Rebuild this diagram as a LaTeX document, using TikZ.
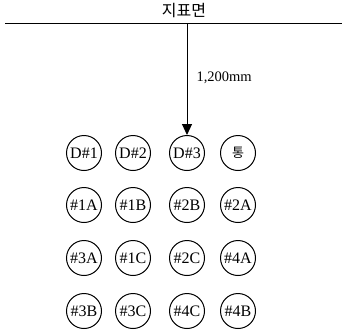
\documentclass[tikz,border=0pt]{standalone}
\usepackage{fontspec}
\setmainfont{Liberation Serif}
\newfontfamily\kr{Noto Sans CJK KR}
\usetikzlibrary{arrows.meta}
\begin{document}
\begin{tikzpicture}[x=1pt,y=-1pt,
  well/.style={circle,draw,line width=1pt,minimum size=35pt,inner sep=0pt,font=\fontsize{16}{16}\selectfont}]
\useasboundingbox (0,0) rectangle (342,333);
\coordinate (L) at (5,23);
\coordinate (R) at (342,23);
\draw[line width=1pt] (L) -- (R);
\node[font=\kr\fontsize{16}{16}\selectfont] (title) at (184,11) {지표면};
\coordinate (top) at (187,23);
\node[well] (d1) at (84,153) {D\#1};
\node[well] (d2) at (133,153) {D\#2};
\node[well] (d3) at (187,153) {D\#3};
\node[well,font=\kr\fontsize{13}{13}\selectfont] (t) at (238,153) {통};
\node[well] (a1) at (84,205) {\#1A};
\node[well] (a2) at (133,205) {\#1B};
\node[well] (a3) at (187,205) {\#2B};
\node[well] (a4) at (238,205) {\#2A};
\node[well] (b1) at (84,258) {\#3A};
\node[well] (b2) at (133,258) {\#1C};
\node[well] (b3) at (187,258) {\#2C};
\node[well] (b4) at (238,258) {\#4A};
\node[well] (c1) at (84,311) {\#3B};
\node[well] (c2) at (133,311) {\#3C};
\node[well] (c3) at (187,311) {\#4C};
\node[well] (c4) at (238,311) {\#4B};
\draw[line width=1pt,-{Triangle[length=11pt,width=10pt]}] (top) -- (d3.north);
\node[anchor=west,font=\fontsize{14.5}{14.5}\selectfont] (lbl) at (193,78) {1,200mm};
\end{tikzpicture}
\end{document}
